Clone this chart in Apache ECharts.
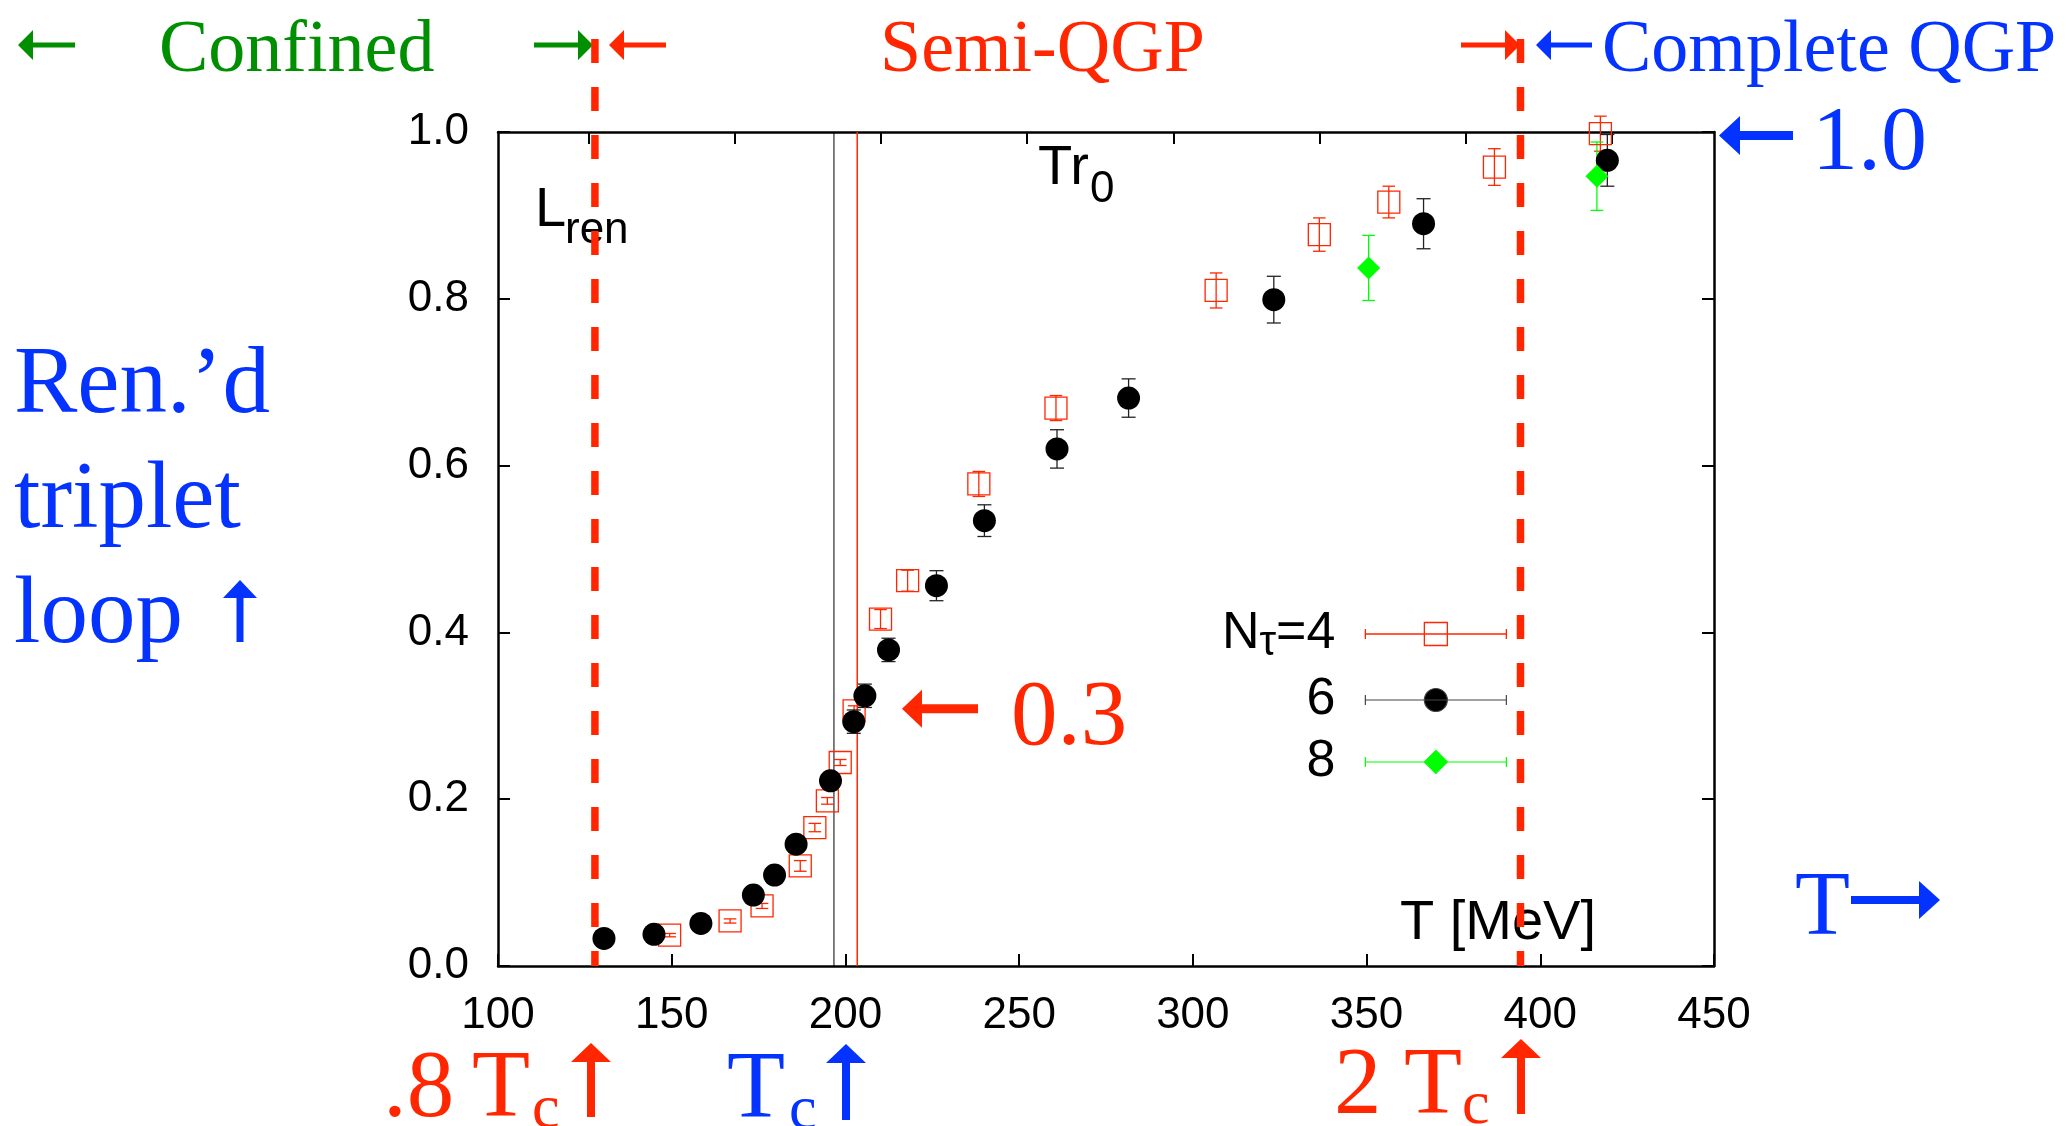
<!DOCTYPE html>
<html>
<head>
<meta charset="utf-8">
<title>Renormalized triplet loop</title>
<script src="https://cdn.jsdelivr.net/npm/echarts@6/dist/echarts.min.js"></script>
<style>
  html, body { margin: 0; padding: 0; background: #fff; }
  #chart { width: 2066px; height: 1126px; }
</style>
</head>
<body>
<div id="chart"></div>
<script>
// colours of the slide
var RED = '#ff2600', BLUE = '#0433ff', GREEN = '#008f00', LIME = '#00ff00';
var SANS = 'Liberation Sans', SERIF = 'Liberation Serif';

// axis ticks
var xTicks = [100, 150, 200, 250, 300, 350, 400, 450];
var yTicks = [0, 0.2, 0.4, 0.6, 0.8, 1.0];
var topTicks = [126.1, 168.1, 210.2, 252.3, 294.4, 336.4, 378.5, 420.6];

// N_tau = 4 (open squares)
var t4 = [149.4, 166.8, 176.0, 187.0, 191.2, 194.8, 198.5, 202.5, 210.1, 217.9, 238.4, 260.6, 306.7, 336.4, 356.4, 386.8, 417.3];
var l4 = [0.037, 0.054, 0.072, 0.120, 0.166, 0.198, 0.244, 0.306, 0.416, 0.462, 0.578, 0.669, 0.810, 0.877, 0.916, 0.958, 0.998];
var e4 = [0.002, 0.0025, 0.003, 0.0064, 0.005, 0.004, 0.0036, 0.006, 0.0114, 0.0126, 0.015, 0.015, 0.021, 0.020, 0.019, 0.022, 0.021];

// N_tau = 6 (filled circles)
var t6 = [130.5, 144.9, 158.4, 173.5, 179.6, 185.8, 195.7, 202.4, 205.6, 212.4, 226.2, 240.0, 260.9, 281.5, 323.3, 366.4, 419.3];
var l6 = [0.033, 0.038, 0.051, 0.085, 0.109, 0.146, 0.222, 0.293, 0.324, 0.379, 0.456, 0.534, 0.620, 0.681, 0.799, 0.890, 0.966];
var e6 = [0.004, 0.004, 0.004, 0.005, 0.005, 0.006, 0.008, 0.014, 0.014, 0.014, 0.018, 0.019, 0.023, 0.023, 0.028, 0.030, 0.031];

// N_tau = 8 (diamonds)
var t8 = [350.6, 416.3];
var l8 = [0.837, 0.947];
var e8 = [0.039, 0.041];

// vertical markers (T in MeV)
var dashedT = [127.9, 394.3];
var dashedTop = 1.1115;
var tcBlack = 196.7, tcRed = 203.4;

function zip3(a, b, c) {
    var out = [];
    for (var i = 0; i < a.length; i++) out.push([a[i], b[i], c[i]]);
    return out;
}

function errorBars(name, data, color, cap) {
    return {
        name: name,
        type: 'custom',
        data: data,
        z: 3,
        silent: true,
        renderItem: function (params, api) {
            var x = api.value(0), y = api.value(1), e = api.value(2);
            var lo = api.coord([x, y - e]);
            var hi = api.coord([x, y + e]);
            var st = { stroke: color, lineWidth: 1.3 };
            return {
                type: 'group',
                children: [
                    { type: 'line', shape: { x1: lo[0], y1: lo[1], x2: hi[0], y2: hi[1] }, style: st },
                    { type: 'line', shape: { x1: lo[0] - cap, y1: lo[1], x2: lo[0] + cap, y2: lo[1] }, style: st },
                    { type: 'line', shape: { x1: hi[0] - cap, y1: hi[1], x2: hi[0] + cap, y2: hi[1] }, style: st }
                ]
            };
        }
    };
}

function vline(t, top, color, width, dash, clip) {
    return {
        type: 'line',
        data: [[t, top], [t, 0]],
        symbol: 'none',
        clip: clip,
        silent: true,
        z: 1,
        lineStyle: { color: color, width: width, type: dash }
    };
}

// plain text placed on a baseline
function txt(str, x, base, size, color, family) {
    var k = family === SERIF ? 0.27 : 0.347;
    return {
        type: 'text', x: x, y: base - k * size, silent: true,
        style: {
            text: str, fill: color, fontSize: size, fontFamily: family,
            lineHeight: size, align: 'left', verticalAlign: 'middle'
        }
    };
}

function arrow(x1, y1, x2, y2, sw, hl, hw, color) {
    var dx = x2 - x1, dy = y2 - y1, len = Math.sqrt(dx * dx + dy * dy);
    var ux = dx / len, uy = dy / len, nx = -uy, ny = ux;
    var bx = x2 - ux * hl, by = y2 - uy * hl;
    var pts = [
        [x1 + nx * sw / 2, y1 + ny * sw / 2],
        [bx + nx * sw / 2, by + ny * sw / 2],
        [bx + nx * hw / 2, by + ny * hw / 2],
        [x2, y2],
        [bx - nx * hw / 2, by - ny * hw / 2],
        [bx - nx * sw / 2, by - ny * sw / 2],
        [x1 - nx * sw / 2, y1 - ny * sw / 2]
    ];
    return { type: 'polygon', shape: { points: pts }, style: { fill: color }, silent: true };
}

// legend icons: horizontal error bar with the marker in the middle
var bar = 'M0,11.5L141,11.5M0,6.5L0,16.5M141,6.5L141,16.5';
var iconSquare = 'path://' + bar + 'M59,0L82,0L82,23L59,23Z';
var iconCircle = 'path://' + bar + 'M82,11.5A11.5,11.5,0,1,1,59,11.5A11.5,11.5,0,1,1,82,11.5Z';
var iconDiamond = 'path://' + bar + 'M70.5,0L82,11.5L70.5,23L59,11.5Z';

var chart = echarts.init(document.getElementById('chart'));

var axisLineStyle = { color: '#000', width: 2.5 };
var tickStyle = { color: '#000', width: 2 };

var option = {
    animation: false,
    backgroundColor: '#fff',
    textStyle: { fontFamily: SANS },
    grid: { left: 498, right: 352, top: 132, bottom: 160, containLabel: false, outerBoundsMode: 'none' },
    xAxis: [{
        type: 'value', min: 100, max: 450, interval: 50, position: 'bottom',
        axisLine: { show: true, onZero: false, lineStyle: axisLineStyle },
        axisTick: { show: true, inside: true, length: 12, lineStyle: tickStyle },
        axisLabel: { show: true, color: '#000', fontSize: 44, fontFamily: SANS, margin: 28 },
        splitLine: { show: false }
    }, {
        type: 'value', min: 100, max: 450, position: 'top',
        axisLine: { show: true, onZero: false, lineStyle: axisLineStyle },
        axisTick: { show: true, inside: true, length: 12, lineStyle: tickStyle, customValues: topTicks },
        axisLabel: { show: false },
        splitLine: { show: false }
    }],
    yAxis: [{
        type: 'value', min: 0, max: 1, interval: 0.2, position: 'left',
        axisLine: { show: true, onZero: false, lineStyle: axisLineStyle },
        axisTick: { show: true, inside: true, length: 12, lineStyle: tickStyle },
        axisLabel: {
            show: true, color: '#000', fontSize: 44, fontFamily: SANS, margin: 29,
            formatter: function (v) { return v.toFixed(1); }
        },
        splitLine: { show: false }
    }, {
        type: 'value', min: 0, max: 1, interval: 0.2, position: 'right',
        axisLine: { show: true, onZero: false, lineStyle: axisLineStyle },
        axisTick: { show: true, inside: true, length: 12, lineStyle: tickStyle },
        axisLabel: { show: false },
        splitLine: { show: false }
    }],
    legend: {
        orient: 'vertical', align: 'right', right: 559, top: 608, padding: 0,
        itemWidth: 141, itemHeight: 24, itemGap: 10, selectedMode: false,
        data: [
            { name: 'N4', icon: iconSquare, itemStyle: { color: 'rgba(0,0,0,0)', borderColor: RED, borderWidth: 1.3 } },
            { name: 'N6', icon: iconCircle, itemStyle: { color: '#000', borderColor: '#444', borderWidth: 1.2 } },
            { name: 'N8', icon: iconDiamond, itemStyle: { color: LIME, borderColor: LIME, borderWidth: 1.2 } }
        ],
        formatter: function (name) {
            if (name === 'N4') return '{a|N}{b|τ}{a|=4}';
            return '{a|' + name.slice(1) + '}';
        },
        textStyle: {
            color: '#000', fontFamily: SANS, fontSize: 52, padding: [0, 25, 0, 0],
            rich: {
                a: { fontSize: 52, fontFamily: SANS, color: '#000', lineHeight: 60, verticalAlign: 'middle' },
                b: { fontSize: 42, fontFamily: SANS, color: '#000', lineHeight: 20, verticalAlign: 'bottom' }
            }
        }
    },
    series: [
        vline(dashedT[0], dashedTop, RED, 7.5, [24, 24], false),
        vline(dashedT[1], dashedTop, RED, 7.5, [24, 24], false),
        vline(tcBlack, 1, '#000', 1, 'solid', true),
        vline(tcRed, 1, RED, 1.5, 'solid', true),
        errorBars('err4', zip3(t4, l4, e4), RED, 6.3),
        errorBars('err6', zip3(t6, l6, e6), '#222', 7),
        errorBars('err8', zip3(t8, l8, e8), LIME, 6.3),
        {
            name: 'N4', type: 'scatter', z: 4, symbol: 'rect', symbolSize: 22,
            data: zip3(t4, l4, e4).map(function (d) { return [d[0], d[1]]; }),
            itemStyle: { color: 'rgba(0,0,0,0)', borderColor: RED, borderWidth: 1.3, opacity: 1 }
        },
        {
            name: 'N6', type: 'scatter', z: 5, symbol: 'circle', symbolSize: 23,
            data: zip3(t6, l6, e6).map(function (d) { return [d[0], d[1]]; }),
            itemStyle: { color: '#000', opacity: 1 }
        },
        {
            name: 'N8', type: 'scatter', z: 6, symbol: 'diamond', symbolSize: 23,
            data: zip3(t8, l8, e8).map(function (d) { return [d[0], d[1]]; }),
            itemStyle: { color: LIME, opacity: 1 }
        }
    ],
    graphic: [
        // top row
        arrow(75, 45, 18, 45, 5, 15, 30, GREEN),
        txt('Confined', 159, 72, 74, GREEN, SERIF),
        arrow(534, 45, 593, 45, 5, 15, 30, GREEN),
        arrow(666, 45, 609, 45, 5, 15, 30, RED),
        txt('Semi-QGP', 880, 72, 74, RED, SERIF),
        arrow(1461, 45, 1520, 45, 5, 15, 30, RED),
        arrow(1592, 45, 1536, 45, 5, 15, 30, BLUE),
        txt('Complete QGP', 1602, 72, 74, BLUE, SERIF),
        // right side
        arrow(1793, 135.5, 1719, 135.5, 9, 21, 39, BLUE),
        txt('1.0', 1812, 170, 92, BLUE, SERIF),
        txt('T', 1795, 935, 90, BLUE, SERIF),
        arrow(1851, 900, 1940, 900, 8, 21, 38, BLUE),
        // inside the frame
        arrow(978, 708.7, 902, 708.7, 9, 20, 38, RED),
        txt('0.3', 1011, 745, 93, RED, SERIF),
        txt('Tr', 1038, 188, 56, '#000', SANS),
        txt('0', 1090, 205, 44, '#000', SANS),
        txt('L', 535, 230, 56, '#000', SANS),
        txt('ren', 565, 246, 44, '#000', SANS),
        txt('T [MeV]', 1400, 943, 56, '#000', SANS),
        // left label
        txt('Ren.’d', 14, 413, 95, BLUE, SERIF),
        txt('triplet', 14, 528, 95, BLUE, SERIF),
        txt('loop', 14, 643, 95, BLUE, SERIF),
        arrow(240, 642, 240, 580, 7, 18, 34, BLUE),
        // bottom labels
        txt('.8', 383, 1117, 95, RED, SERIF),
        txt('T', 472, 1117, 95, RED, SERIF),
        txt('c', 532, 1127, 62, RED, SERIF),
        arrow(591, 1117, 591, 1043, 8, 19, 40, RED),
        txt('T', 727, 1118, 95, BLUE, SERIF),
        txt('c', 789, 1128, 62, BLUE, SERIF),
        arrow(846, 1120, 846, 1044, 8, 19, 40, BLUE),
        txt('2', 1334, 1114, 95, RED, SERIF),
        txt('T', 1404, 1114, 95, RED, SERIF),
        txt('c', 1462, 1123, 62, RED, SERIF),
        arrow(1521, 1114, 1521, 1039, 8, 19, 40, RED)
    ]
};

chart.setOption(option);
</script>
</body>
</html>
